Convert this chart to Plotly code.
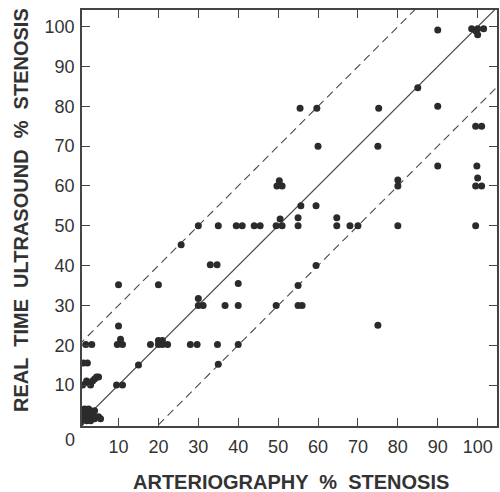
import plotly.graph_objects as go

# Arteriography % stenosis (x) vs real time ultrasound % stenosis (y)
arterio_pct = [
    # origin cluster
    0.5, 1, 1, 1.5, 2, 2, 2.5, 3, 3, 3.5, 4, 4, 5, 5.5, 1.5, 2.5,
    # left column
    1.8, 3.3, 1.2, 2.2,
    1, 2, 3, 3.5, 4, 4.5, 5, 2.5,
    # x ~ 10
    10, 10, 10.5, 9.7, 11, 9.5, 11,
    # 15 - 25
    15, 18, 20, 21, 20, 21, 22.3, 20.5, 20, 25.7,
    # 28 - 37
    28, 29.7, 30, 30, 31.2, 30, 35, 33, 34.7, 36.7, 34.8, 35,
    # 40 - 50
    40, 40, 40, 39.5, 41, 44, 45.5, 49.5, 49.5,
    # 50 - 60
    51, 50.5, 49.7, 51, 50.3, 55, 55, 55, 55, 56, 55.7, 59.5, 59.5,
    55.5, 59.7, 60,
    # 64 - 90
    64.7, 64.7, 68, 70, 75, 75, 75.2, 80, 80, 80, 85, 90, 90, 90,
    # x ~ 100
    98.5, 100, 101.5, 100, 99.5, 99.5, 101, 99.8, 100, 99.5, 101, 99.5,
]
ultrasound_pct = [
    0.5, 1.5, 3, 2, 1, 3.5, 2, 1, 3.5, 2.5, 1.5, 3.5, 2, 1.5, 4, 4,
    20.2, 20.2, 15.5, 15.5,
    10, 11, 10, 11, 11.5, 12, 12, 10.5,
    35.2, 24.8, 21.5, 20.2, 20.2, 10, 10,
    15, 20.2, 21.2, 21.2, 20.2, 20.2, 20.2, 20.6, 35.2, 45.2,
    20.2, 20.2, 50, 30, 30, 31.7, 50, 40.2, 40.2, 30, 20.2, 15.2,
    35.5, 30, 20.2, 50, 50, 50, 50, 50, 30,
    50, 51.7, 60, 60, 61.3, 52, 50, 35, 30, 30, 55, 55, 40,
    79.5, 79.5, 70,
    52, 50, 50, 50, 25, 70, 79.5, 50, 60, 61.5, 84.7, 99.2, 80, 65,
    99.5, 99.5, 99.5, 98, 50, 75, 75, 65, 62, 60, 60, 99,
]

x_ticks = [10, 20, 30, 40, 50, 60, 70, 80, 90, 100]
y_ticks = [10, 20, 30, 40, 50, 60, 70, 80, 90, 100]
line_offsets = [0, 20, -20]
line_styles = ["solid", "8px,5px", "8px,5px"]

x_range = [0.85, 104.85]
y_range = [-0.3, 104.2]

fig = go.Figure()

for off, dash in zip(line_offsets, line_styles):
    xs = [max(0, -off), min(110, 110 - off)]
    ys = [x + off for x in xs]
    fig.add_trace(go.Scatter(
        x=xs, y=ys, mode="lines",
        line=dict(color="#4a4a4a", width=1.2 if dash == "solid" else 1.1, dash=dash),
        hoverinfo="skip", showlegend=False,
    ))

fig.add_trace(go.Scatter(
    x=arterio_pct, y=ultrasound_pct, mode="markers",
    marker=dict(color="#2b2b2b", size=7, line=dict(width=0)),
    showlegend=False,
))

axis_common = dict(
    showgrid=False, zeroline=False, showline=True, linecolor="#444",
    linewidth=1.5, mirror="ticks", ticks="inside", ticklen=8,
    tickcolor="#444", tickwidth=1.3, automargin=False,
    tickfont=dict(family="Liberation Sans, Arial, sans-serif", size=18, color="#333"),
)

fig.update_layout(
    width=500, height=492,
    margin=dict(l=82, r=3, t=10, b=66),
    paper_bgcolor="white", plot_bgcolor="white",
    xaxis=dict(range=x_range, tickvals=x_ticks, ticklabelstandoff=4, **axis_common),
    yaxis=dict(range=y_range, tickvals=y_ticks, ticklabelstandoff=2, **axis_common),
    annotations=[
        dict(text="0", xref="paper", yref="paper", x=(70 - 82) / 415, y=(426 - 440) / 416,
             showarrow=False, xanchor="center", yanchor="middle",
             font=dict(family="Liberation Sans, Arial, sans-serif", size=18, color="#333")),
        dict(text="ARTERIOGRAPHY  %  STENOSIS", xref="paper", yref="paper",
             x=(291 - 82) / 415, y=(426 - 482) / 416, showarrow=False,
             xanchor="center", yanchor="middle",
             font=dict(family="Liberation Sans, Arial, sans-serif", size=20, color="#333", weight="bold")),
        dict(text="REAL  TIME  ULTRASOUND  %  STENOSIS", xref="paper", yref="paper",
             x=(21 - 82) / 415, y=(426 - 210) / 416, showarrow=False, textangle=-90,
             xanchor="center", yanchor="middle",
             font=dict(family="Liberation Sans, Arial, sans-serif", size=20, color="#333", weight="bold")),
    ],
)

fig.write_html(
    "out.html",
    config={"displayModeBar": False},
    post_script="document.body.style.margin='0';document.body.style.padding='0';",
)
